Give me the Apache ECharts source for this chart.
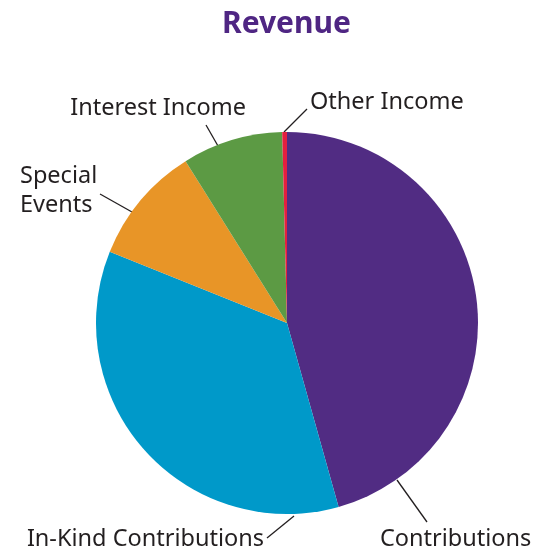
<!DOCTYPE html>
<html>
<head>
<meta charset="utf-8">
<script src="https://cdn.jsdelivr.net/npm/echarts@6/dist/echarts.min.js"></script>
<style>html,body{margin:0;padding:0;background:#fff}#c{width:551px;height:553px}</style>
</head>
<body>
<div id="c"></div>
<script>
const titleText = 'Revenue';
const categories = ['Contributions', 'In-Kind Contributions', 'Special\nEvents', 'Interest Income', 'Other Income'];
const values = [45.6, 35.4, 10.0, 8.5, 0.4];
const colors = ['#512c83', '#0099c9', '#e89527', '#5c9a44', '#e41f3f'];
// label annotation layout (text anchors and leader lines)
const labelPos = [
  {x: 380, y: 539, align: 'left',  line: [[397, 480], [427, 522]]},
  {x: 264, y: 539, align: 'right', line: [[294, 516], [267, 538]]},
  {x: 20,  y: 191, align: 'left',  line: [[132, 212], [100, 194]]},
  {x: 246, y: 108, align: 'right', line: [[218, 146], [206, 125]]},
  {x: 310, y: 102, align: 'left',  line: [[284, 132], [307, 109]]}
];

const chart = echarts.init(document.getElementById('c'));
chart.setOption({
  animation: false,
  title: {
    text: titleText, left: 217, top: 4,
    textStyle: {color: '#4f2683', fontSize: 30, fontWeight: 'bold', fontFamily: 'Noto Sans'}
  },
  series: [{
    type: 'pie',
    center: [287, 323],
    radius: 191,
    startAngle: 90,
    clockwise: true,
    data: categories.map((n, i) => ({name: n, value: values[i], itemStyle: {color: colors[i]}})),
    label: {
      show: true, position: 'outside', formatter: '{b}', overflow: 'none',
      color: '#231f20', fontSize: 23.5, fontFamily: 'Noto Sans', lineHeight: 29
    },
    labelLine: {show: true, length: 15, length2: 0, lineStyle: {color: '#231f20', width: 1.3}},
    labelLayout: function (p) {
      const lp = labelPos[p.dataIndex];
      return {x: lp.x, y: lp.y, align: lp.align, verticalAlign: 'middle', labelLinePoints: lp.line};
    },
    emphasis: {disabled: true}
  }]
});
</script>
</body>
</html>
